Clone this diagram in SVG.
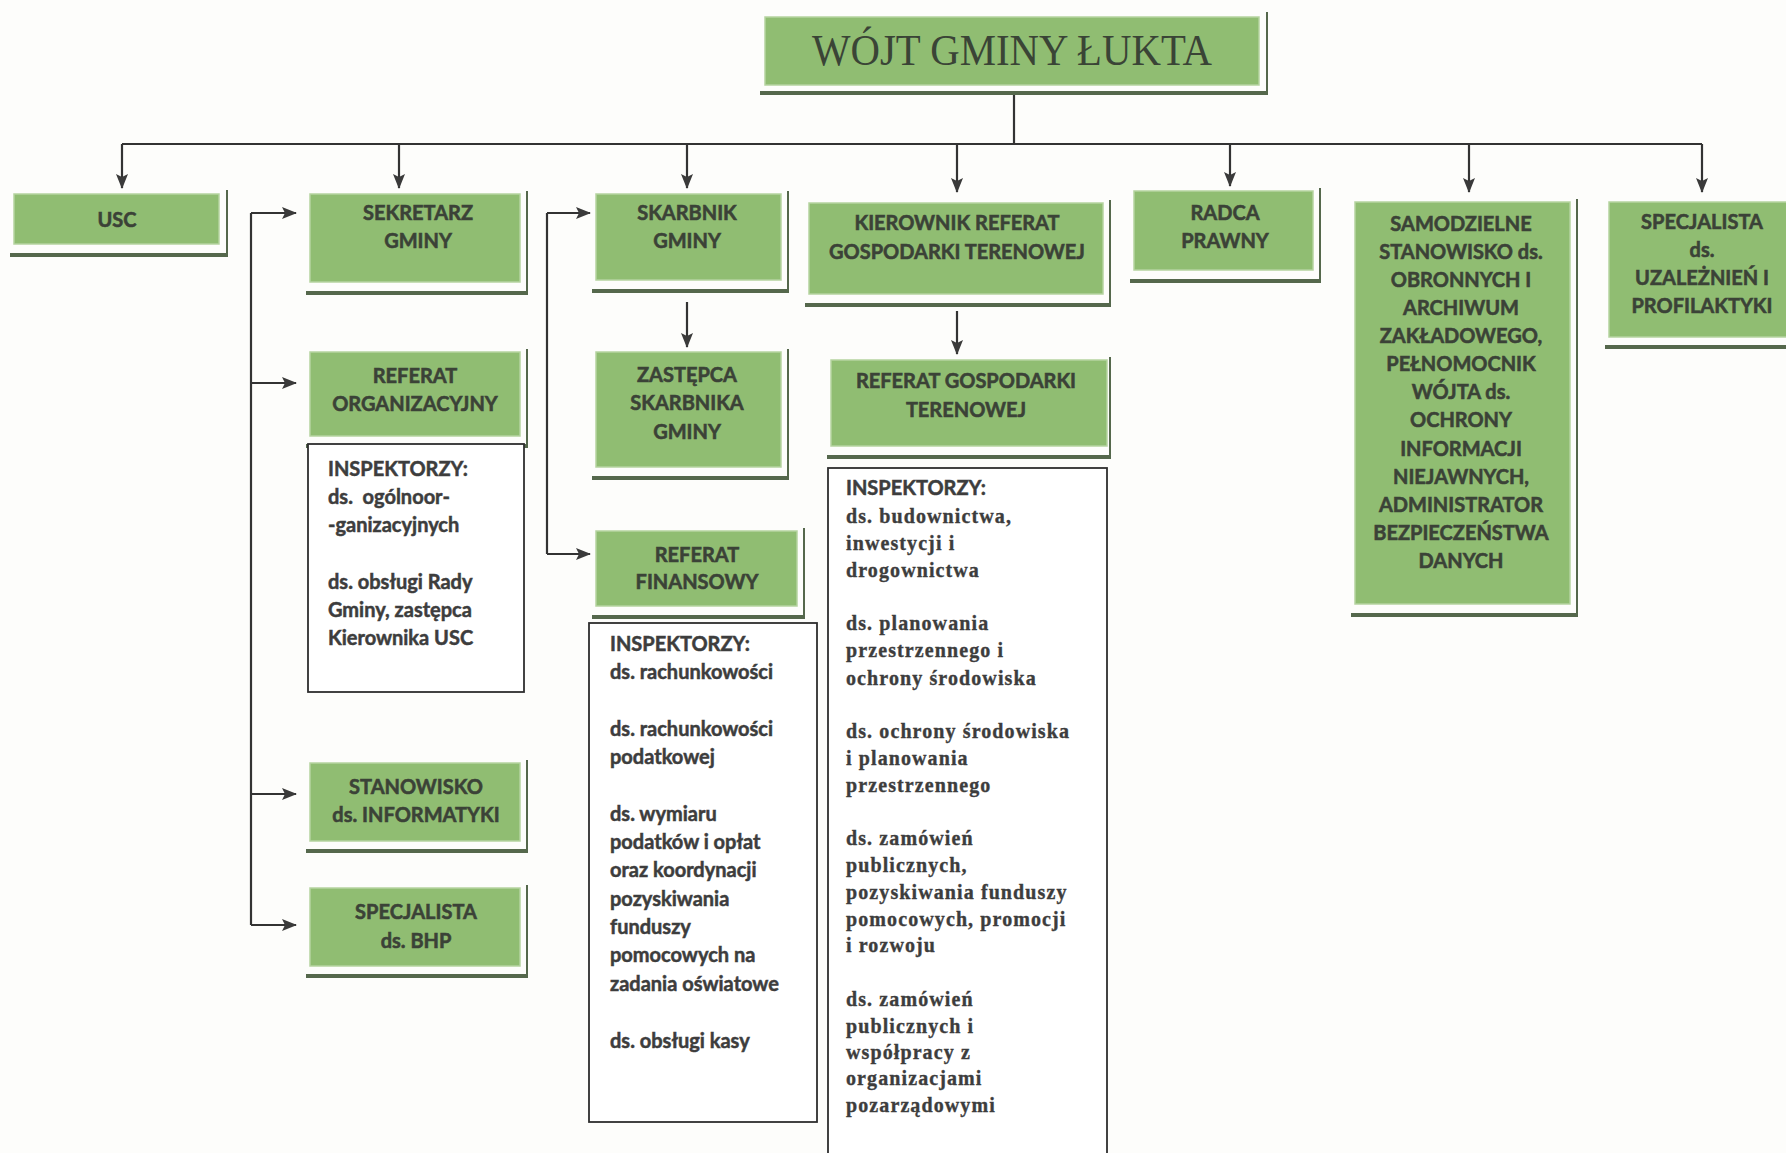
<svg xmlns="http://www.w3.org/2000/svg" width="1786" height="1153" viewBox="0 0 1786 1153">
<defs>
<marker id="ah" viewBox="0 0 15 12" refX="14" refY="6" markerWidth="15" markerHeight="12" markerUnits="userSpaceOnUse" orient="auto">
<path d="M0,0 L15,6 L0,12 L3,6 z" fill="#3a3a3a"/>
</marker>
<style>
.bg{fill:#fdfdfb}
.box{fill:#90bd72;stroke:#b5d3a0;stroke-width:1.5}
.sh{stroke:#55684c;fill:none}
.shr{stroke-width:2}
.shb{stroke-width:4}
.lbl{font-family:Lato,"Liberation Sans",sans-serif;font-weight:bold;font-size:20px;fill:#3b4237;stroke:#3b4237;stroke-width:0.55;text-anchor:middle}
.ins{fill:#ffffff;stroke:#2e2e2e;stroke-width:1.8}
.it{font-family:Lato,"Liberation Sans",sans-serif;font-weight:bold;font-size:20px;fill:#3d3d3d;stroke:#3d3d3d;stroke-width:0.5}
.its{font-family:"Liberation Serif","Times New Roman",serif;font-weight:bold;font-size:20px;fill:#3d3d3d;stroke:#3d3d3d;stroke-width:0.35;letter-spacing:1.1px}
.ttl{font-family:"Liberation Serif","Times New Roman",serif;font-size:44px;fill:#3a4436;text-anchor:middle}
.con{stroke:#333333;stroke-width:2.2;fill:none}
.arr{stroke:#333333;stroke-width:2.2;fill:none;marker-end:url(#ah)}
</style>
</defs>
<rect class="bg" x="0" y="0" width="1786" height="1153"/>

<g id="connectors">
<path class="con" d="M1014,93 V144"/>
<path class="con" d="M122,144 H1702"/>
<path class="arr" d="M122,144 V188"/>
<path class="arr" d="M399,144 V188"/>
<path class="arr" d="M687,144 V188"/>
<path class="arr" d="M957,144 V192"/>
<path class="arr" d="M1230,144 V186"/>
<path class="arr" d="M1469,144 V192"/>
<path class="arr" d="M1702,144 V192"/>
<path class="con" d="M251,213 V925"/>
<path class="arr" d="M251,213 H296"/>
<path class="arr" d="M251,383 H296"/>
<path class="arr" d="M251,794 H296"/>
<path class="arr" d="M251,925 H296"/>
<path class="con" d="M547,213 V554"/>
<path class="arr" d="M547,213 H590"/>
<path class="arr" d="M547,554 H590"/>
<path class="arr" d="M687,302 V347"/>
<path class="arr" d="M957,311 V354"/>
</g>

<g id="wojt">
<path class="sh shr" d="M1267,12 V93"/>
<path class="sh shb" d="M760,93 H1268"/>
<rect class="box" x="765" y="17" width="494" height="68"/>
<text class="ttl" x="1012" y="65" textLength="400" lengthAdjust="spacingAndGlyphs">WÓJT GMINY ŁUKTA</text>
</g>

<g id="usc">
<path class="sh shr" d="M227,190 V255"/>
<path class="sh shb" d="M10,255 H228"/>
<rect class="box" x="14" y="194" width="205" height="50"/>
<text class="lbl" x="117" y="227">USC</text>
</g>

<g id="sekretarz">
<path class="sh shr" d="M527,191 V293"/>
<path class="sh shb" d="M306,293 H528"/>
<rect class="box" x="310" y="194" width="210" height="88"/>
<text class="lbl" x="418" y="220">SEKRETARZ</text>
<text class="lbl" x="418" y="248">GMINY</text>
</g>

<g id="skarbnik">
<path class="sh shr" d="M788,191 V291"/>
<path class="sh shb" d="M592,291 H789"/>
<rect class="box" x="596" y="194" width="185" height="86"/>
<text class="lbl" x="687" y="220">SKARBNIK</text>
<text class="lbl" x="687" y="248">GMINY</text>
</g>

<g id="kierownik">
<path class="sh shr" d="M1110,200 V305"/>
<path class="sh shb" d="M805,305 H1111"/>
<rect class="box" x="809" y="203" width="294" height="91"/>
<text class="lbl" x="957" y="230">KIEROWNIK REFERAT</text>
<text class="lbl" x="957" y="259">GOSPODARKI TERENOWEJ</text>
</g>

<g id="radca">
<path class="sh shr" d="M1320,188 V281"/>
<path class="sh shb" d="M1130,281 H1321"/>
<rect class="box" x="1134" y="191" width="179" height="79"/>
<text class="lbl" x="1225" y="220">RADCA</text>
<text class="lbl" x="1225" y="248">PRAWNY</text>
</g>

<g id="samodzielne">
<path class="sh shr" d="M1577,199 V615"/>
<path class="sh shb" d="M1351,615 H1578"/>
<rect class="box" x="1355" y="202" width="215" height="402"/>
<text class="lbl" x="1461" y="231">SAMODZIELNE</text>
<text class="lbl" x="1461" y="259">STANOWISKO ds.</text>
<text class="lbl" x="1461" y="287">OBRONNYCH I</text>
<text class="lbl" x="1461" y="315">ARCHIWUM</text>
<text class="lbl" x="1461" y="343">ZAKŁADOWEGO,</text>
<text class="lbl" x="1461" y="371">PEŁNOMOCNIK</text>
<text class="lbl" x="1461" y="399">WÓJTA ds.</text>
<text class="lbl" x="1461" y="427">OCHRONY</text>
<text class="lbl" x="1461" y="456">INFORMACJI</text>
<text class="lbl" x="1461" y="484">NIEJAWNYCH,</text>
<text class="lbl" x="1461" y="512">ADMINISTRATOR</text>
<text class="lbl" x="1461" y="540">BEZPIECZEŃSTWA</text>
<text class="lbl" x="1461" y="568">DANYCH</text>
</g>

<g id="specjalista-uzaleznien">
<path class="sh shb" d="M1605,347 H1786"/>
<rect class="box" x="1609" y="202" width="180" height="135"/>
<text class="lbl" x="1702" y="229">SPECJALISTA</text>
<text class="lbl" x="1702" y="257">ds.</text>
<text class="lbl" x="1702" y="285">UZALEŻNIEŃ I</text>
<text class="lbl" x="1702" y="313">PROFILAKTYKI</text>
</g>

<g id="referat-organizacyjny">
<path class="sh shr" d="M527,349 V446"/>
<path class="sh shb" d="M306,446 H528"/>
<rect class="box" x="310" y="352" width="210" height="84"/>
<text class="lbl" x="415" y="383">REFERAT</text>
<text class="lbl" x="415" y="411">ORGANIZACYJNY</text>
</g>

<g id="inspektorzy-org">
<rect class="ins" x="308" y="444" width="216" height="248"/>
<text class="it" x="328" y="476">INSPEKTORZY:</text>
<text class="it" x="328" y="504" xml:space="preserve">ds.  ogólnoor-</text>
<text class="it" x="328" y="532">-ganizacyjnych</text>
<text class="it" x="328" y="589">ds. obsługi Rady</text>
<text class="it" x="328" y="617">Gminy, zastępca</text>
<text class="it" x="328" y="645">Kierownika USC</text>
</g>

<g id="zastepca">
<path class="sh shr" d="M788,349 V478"/>
<path class="sh shb" d="M592,478 H789"/>
<rect class="box" x="596" y="352" width="185" height="115"/>
<text class="lbl" x="687" y="382">ZASTĘPCA</text>
<text class="lbl" x="687" y="410">SKARBNIKA</text>
<text class="lbl" x="687" y="439">GMINY</text>
</g>

<g id="referat-gospodarki">
<path class="sh shr" d="M1110,357 V457"/>
<path class="sh shb" d="M827,457 H1111"/>
<rect class="box" x="831" y="360" width="276" height="86"/>
<text class="lbl" x="966" y="388">REFERAT GOSPODARKI</text>
<text class="lbl" x="966" y="417">TERENOWEJ</text>
</g>

<g id="inspektorzy-gt">
<rect class="ins" x="828" y="468" width="279" height="700"/>
<text class="it" x="846" y="495">INSPEKTORZY:</text>
<text class="its" x="846" y="523">ds. budownictwa,</text>
<text class="its" x="846" y="550">inwestycji i</text>
<text class="its" x="846" y="577">drogownictwa</text>
<text class="its" x="846" y="630">ds. planowania</text>
<text class="its" x="846" y="657">przestrzennego i</text>
<text class="its" x="846" y="685">ochrony środowiska</text>
<text class="its" x="846" y="738">ds. ochrony środowiska</text>
<text class="its" x="846" y="765">i planowania</text>
<text class="its" x="846" y="792">przestrzennego</text>
<text class="its" x="846" y="845">ds. zamówień</text>
<text class="its" x="846" y="872">publicznych,</text>
<text class="its" x="846" y="899">pozyskiwania funduszy</text>
<text class="its" x="846" y="926">pomocowych, promocji</text>
<text class="its" x="846" y="952">i rozwoju</text>
<text class="its" x="846" y="1006">ds. zamówień</text>
<text class="its" x="846" y="1033">publicznych i</text>
<text class="its" x="846" y="1059">współpracy z</text>
<text class="its" x="846" y="1085">organizacjami</text>
<text class="its" x="846" y="1112">pozarządowymi</text>
</g>

<g id="referat-finansowy">
<path class="sh shr" d="M804,528 V617"/>
<path class="sh shb" d="M592,617 H805"/>
<rect class="box" x="596" y="531" width="201" height="75"/>
<text class="lbl" x="697" y="562">REFERAT</text>
<text class="lbl" x="697" y="589">FINANSOWY</text>
</g>

<g id="inspektorzy-fin">
<rect class="ins" x="589" y="623" width="228" height="499"/>
<text class="it" x="610" y="651">INSPEKTORZY:</text>
<text class="it" x="610" y="679">ds. rachunkowości</text>
<text class="it" x="610" y="736">ds. rachunkowości</text>
<text class="it" x="610" y="764">podatkowej</text>
<text class="it" x="610" y="821">ds. wymiaru</text>
<text class="it" x="610" y="849">podatków i opłat</text>
<text class="it" x="610" y="877">oraz koordynacji</text>
<text class="it" x="610" y="906">pozyskiwania</text>
<text class="it" x="610" y="934">funduszy</text>
<text class="it" x="610" y="962">pomocowych na</text>
<text class="it" x="610" y="991">zadania oświatowe</text>
<text class="it" x="610" y="1048">ds. obsługi kasy</text>
</g>

<g id="stanowisko-informatyki">
<path class="sh shr" d="M527,760 V851"/>
<path class="sh shb" d="M306,851 H528"/>
<rect class="box" x="310" y="763" width="210" height="78"/>
<text class="lbl" x="416" y="794">STANOWISKO</text>
<text class="lbl" x="416" y="822">ds. INFORMATYKI</text>
</g>

<g id="specjalista-bhp">
<path class="sh shr" d="M527,885 V976"/>
<path class="sh shb" d="M306,976 H528"/>
<rect class="box" x="310" y="888" width="210" height="78"/>
<text class="lbl" x="416" y="919">SPECJALISTA</text>
<text class="lbl" x="416" y="948">ds. BHP</text>
</g>
</svg>
